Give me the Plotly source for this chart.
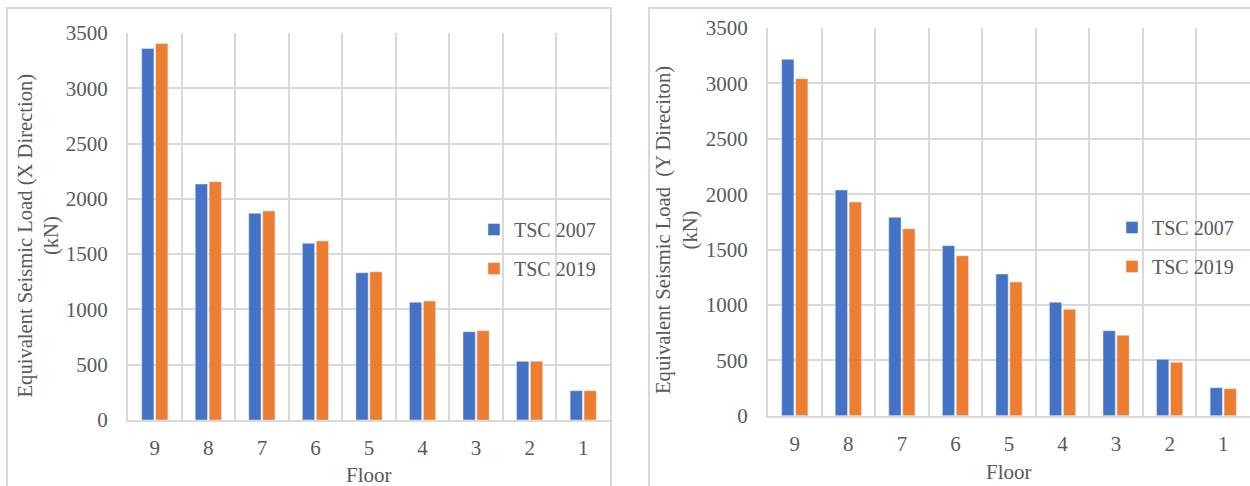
import plotly.graph_objects as go

# ---- data ----
floors = ["9", "8", "7", "6", "5", "4", "3", "2", "1"]
x_dir_tsc2007 = [3360, 2134, 1869, 1598, 1332, 1064, 799, 531, 265]
x_dir_tsc2019 = [3405, 2155, 1890, 1619, 1341, 1076, 808, 531, 265]
y_dir_tsc2007 = [3217, 2037, 1791, 1535, 1279, 1024, 767, 509, 253]
y_dir_tsc2019 = [3042, 1929, 1688, 1444, 1207, 960, 726, 482, 244]
series_names = ["TSC 2007", "TSC 2019"]
y_ticks = [0, 500, 1000, 1500, 2000, 2500, 3000, 3500]

W, H = 1250, 486
BLUE, ORANGE = "#4472C4", "#ED7D31"
GRID = "#d9d9d9"
TXT = "#595959"
FONT = "Liberation Serif"


def px(x):
    return x / W


def py(y):
    return 1 - y / H


fig = go.Figure()
fig.add_trace(go.Bar(x=floors, y=x_dir_tsc2007, name=series_names[0], marker_color=BLUE,
                     xaxis="x", yaxis="y", legend="legend", legendgroup="a"))
fig.add_trace(go.Bar(x=floors, y=x_dir_tsc2019, name=series_names[1], marker_color=ORANGE,
                     xaxis="x", yaxis="y", legend="legend", legendgroup="b"))
fig.add_trace(go.Bar(x=floors, y=y_dir_tsc2007, name=series_names[0], marker_color=BLUE,
                     xaxis="x2", yaxis="y2", legend="legend2", legendgroup="c"))
fig.add_trace(go.Bar(x=floors, y=y_dir_tsc2019, name=series_names[1], marker_color=ORANGE,
                     xaxis="x2", yaxis="y2", legend="legend2", legendgroup="d"))

tickfont = dict(family=FONT, size=21, color=TXT)

xax = dict(type="category", tickson="boundaries", showgrid=True, gridcolor=GRID, gridwidth=2,
           showline=True, linecolor=GRID, linewidth=2, ticks="", tickfont=tickfont,
           ticklabelstandoff=8, fixedrange=True, automargin=False)
yax = dict(range=[0, 3500], tickvals=y_ticks, showgrid=True, gridcolor=GRID, gridwidth=2,
           showline=True, linecolor=GRID, linewidth=2, zeroline=False, ticks="",
           tickfont=tickfont, ticklabelstandoff=14, fixedrange=True, automargin=False)

legend_common = dict(font=dict(family=FONT, size=20, color=TXT), bgcolor="rgba(0,0,0,0)",
                     tracegroupgap=10, xanchor="left", yanchor="top")

fig.update_layout(
    width=W, height=H, autosize=False,
    margin=dict(l=0, r=0, t=0, b=0, pad=0, autoexpand=False),
    paper_bgcolor="white", plot_bgcolor="white",
    barmode="group", bargap=0.48, bargroupgap=0.12,
    xaxis=dict(domain=[px(128), px(610)], anchor="y", **xax),
    yaxis=dict(domain=[py(420), py(33)], anchor="x", **yax),
    xaxis2=dict(domain=[px(768), 1.0], anchor="y2", **xax),
    yaxis2=dict(domain=[py(415.7), py(28)], anchor="x2", **yax),
    legend=dict(x=px(474), y=py(210), **legend_common),
    legend2=dict(x=px(1112), y=py(208), **legend_common),
    showlegend=True,
)

# panel borders
fig.add_shape(type="rect", xref="paper", yref="paper", x0=px(7), x1=px(611), y0=py(520), y1=py(8),
              line=dict(color=GRID, width=2), fillcolor="rgba(0,0,0,0)", layer="below")
fig.add_shape(type="rect", xref="paper", yref="paper", x0=px(649), x1=px(1300), y0=py(520), y1=py(8),
              line=dict(color=GRID, width=2), fillcolor="rgba(0,0,0,0)", layer="below")

titlefont = dict(family=FONT, size=20.6, color=TXT)
# axis titles
fig.add_annotation(xref="paper", yref="paper", x=px(39), y=py(235.5), xanchor="center", yanchor="middle",
                   textangle=-90, showarrow=False, font=titlefont,
                   text="Equivalent Seismic Load (X Direction)<br>(kN)")
fig.add_annotation(xref="paper", yref="paper", x=px(677), y=py(230), xanchor="center", yanchor="middle",
                   textangle=-90, showarrow=False, font=titlefont,
                   text="Equivalent Seismic Load  (Y Direciton)<br>(kN)")
fig.add_annotation(xref="paper", yref="paper", x=px(369), y=py(475), xanchor="center", yanchor="middle",
                   showarrow=False, font=dict(family=FONT, size=21, color=TXT), text="Floor")
fig.add_annotation(xref="paper", yref="paper", x=px(1009), y=py(471.5), xanchor="center", yanchor="middle",
                   showarrow=False, font=dict(family=FONT, size=21, color=TXT), text="Floor")

fig.write_html("out.html", config={"displayModeBar": False},
               post_script="document.body.style.margin='0';")
